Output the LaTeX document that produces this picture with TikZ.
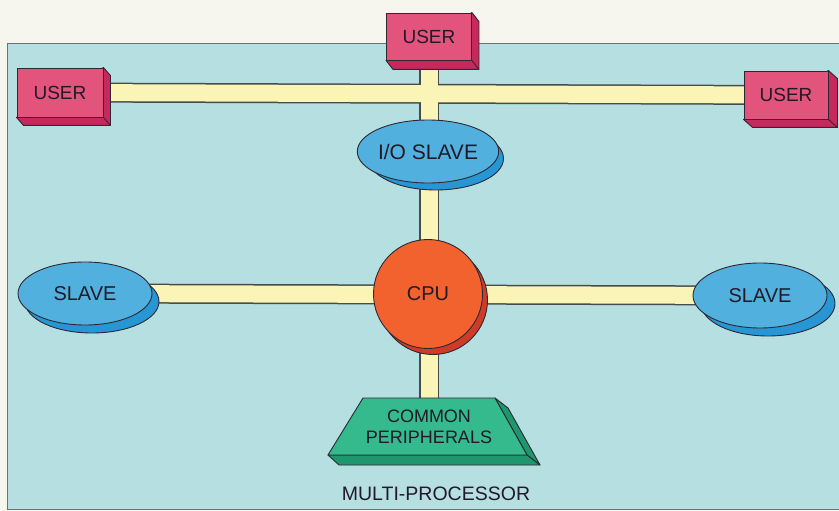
\documentclass[tikz,border=0pt]{standalone}
\usepackage{fontspec}
\setmainfont{Liberation Sans}
\usetikzlibrary{shapes.geometric,calc}
\pgfdeclarelayer{panel}\pgfdeclarelayer{bus}\pgfdeclarelayer{shade}
\pgfsetlayers{panel,bus,shade,main}
\definecolor{pagebg}{RGB}{246,245,238}
\definecolor{panelbg}{RGB}{182,223,226}
\definecolor{panelline}{RGB}{105,115,115}
\definecolor{outl}{RGB}{45,40,50}
\definecolor{busfill}{RGB}{250,244,182}
\definecolor{busline}{RGB}{70,75,75}
\definecolor{userfront}{RGB}{226,84,124}
\definecolor{userside}{RGB}{198,42,92}
\definecolor{slavefront}{RGB}{82,176,222}
\definecolor{slaveside}{RGB}{38,150,212}
\definecolor{cpufront}{RGB}{242,98,46}
\definecolor{cpuside}{RGB}{204,60,40}
\definecolor{perfront}{RGB}{52,186,140}
\definecolor{perside}{RGB}{30,150,110}
\definecolor{txt}{RGB}{35,25,40}
\begin{document}
\begin{tikzpicture}[x=1pt,y=-1pt,
  ol/.style={draw=outl,line width=0.9pt},
  lbl/.style={text=txt,font=\fontsize{20}{22}\selectfont},
  userbox/.style={rectangle,ol,fill=userfront,lbl,font=\fontsize{19}{22}\selectfont,inner sep=0pt},
  slavebox/.style={ellipse,ol,fill=slavefront,lbl,inner sep=0pt},
  busout/.style={draw=busline,line width=20pt},
  busin/.style={draw=busfill,line width=17pt}]
\useasboundingbox (0,0) rectangle (839,511);
% nodes
\node[userbox,minimum width=85pt,minimum height=47pt] (userT) at (429,36.5) {USER};
\node[userbox,minimum width=86pt,minimum height=49pt] (userL) at (60,92.5) {USER};
\node[userbox,minimum width=84pt,minimum height=48pt] (userR) at (786,95) {USER};
\node[slavebox,minimum width=135pt,minimum height=63pt,font=\fontsize{21}{23}\selectfont] (io) at (428,151.5) {I/O SLAVE};
\node[slavebox,minimum width=134pt,minimum height=63pt] (slaveL) at (85,293.5) {SLAVE};
\node[slavebox,minimum width=134pt,minimum height=65pt] (slaveR) at (760,295.5) {SLAVE};
\node[circle,ol,fill=cpufront,lbl,minimum size=109pt,inner sep=0pt] (cpu) at (428,294) {CPU};
\node[lbl,font=\fontsize{18}{21}\selectfont,align=center,inner sep=0pt] (per) at (429,426.5) {COMMON\\PERIPHERALS};
\node[text=txt,font=\fontsize{19.5}{22}\selectfont] (title) at (436,494) {MULTI-PROCESSOR};
% background panel
\begin{pgfonlayer}{panel}
  \fill[pagebg] (0,0) rectangle (839,511);
  \draw[fill=panelbg,draw=panelline,line width=1pt] (7,44) rectangle (850,509);
\end{pgfonlayer}
% buses
\begin{pgfonlayer}{bus}
  \foreach \a/\b in {userL/userR,userT/per,slaveL/slaveR}
    \draw[busout] (\a.center) -- (\b.center);
  \foreach \a/\b in {userL/userR,userT/per,slaveL/slaveR}
    \draw[busin] (\a.center) -- (\b.center);
\end{pgfonlayer}
% depth / shading
\begin{pgfonlayer}{shade}
  \foreach \n/\dx/\dy in {userT/7/9,userL/7/8,userR/9/8}{
    \filldraw[ol,fill=userside,line join=round] (\n.north east) -- ++(\dx,\dy)
      -- ($(\n.south east)+(\dx,\dy)$) -- ($(\n.south west)+(\dx,\dy)$)
      -- (\n.south west) -- cycle;
    \draw[ol] (\n.south east) -- ++(\dx,\dy);
  }
  \filldraw[ol,fill=slaveside] ($(io.center)+(8,7)$) ellipse [x radius=67.5, y radius=31.5];
  \filldraw[ol,fill=slaveside] ($(slaveL.center)+(7,8)$) ellipse [x radius=67, y radius=31.5];
  \filldraw[ol,fill=slaveside] ($(slaveR.center)+(8,8)$) ellipse [x radius=67, y radius=32.5];
  \filldraw[ol,fill=cpuside] ($(cpu.center)+(5,6)$) circle [radius=54.5];
  % peripherals block
  \filldraw[ol,fill=perside,line join=round]
    ($(per)+(66,-28.5)$) -- ($(per)+(79,-18.5)$) -- ($(per)+(111,38.5)$)
    -- ($(per)+(98,28.5)$) -- cycle;
  \filldraw[ol,fill=perside,line join=round]
    ($(per)+(-101,28.5)$) -- ($(per)+(98,28.5)$) -- ($(per)+(111,38.5)$)
    -- ($(per)+(-90,38.5)$) -- cycle;
  \filldraw[ol,fill=perfront,line join=round]
    ($(per)+(-66,-28.5)$) -- ($(per)+(66,-28.5)$) -- ($(per)+(98,28.5)$)
    -- ($(per)+(-101,28.5)$) -- cycle;
\end{pgfonlayer}
\end{tikzpicture}
\end{document}
